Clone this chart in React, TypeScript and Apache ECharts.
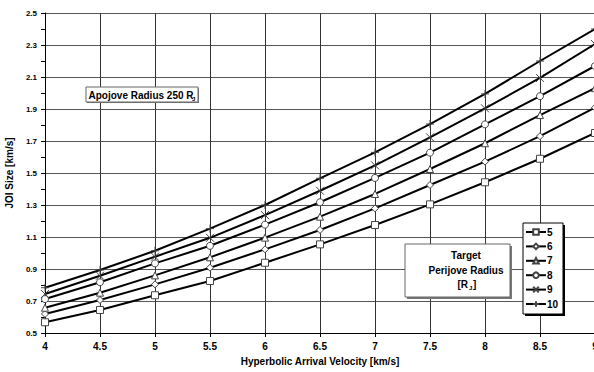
import React, { useEffect, useRef } from "react";
import * as echarts from "echarts";

const velocities = [4, 4.5, 5, 5.5, 6, 6.5, 7, 7.5, 8, 8.5, 9];
const perijove5 = [0.567, 0.644, 0.736, 0.825, 0.939, 1.054, 1.175, 1.304, 1.442, 1.589, 1.75];
const perijove6 = [0.619, 0.706, 0.804, 0.908, 1.023, 1.144, 1.279, 1.425, 1.571, 1.73, 1.908];
const perijove7 = [0.658, 0.752, 0.86, 0.973, 1.096, 1.227, 1.369, 1.525, 1.686, 1.862, 2.03];
const perijove8 = [0.712, 0.817, 0.935, 1.045, 1.177, 1.317, 1.469, 1.627, 1.804, 1.98, 2.169];
const perijove9 = [0.744, 0.858, 0.977, 1.095, 1.237, 1.389, 1.548, 1.723, 1.904, 2.094, 2.306];
const perijove10 = [0.783, 0.894, 1.014, 1.152, 1.3, 1.467, 1.629, 1.806, 1.994, 2.2, 2.4];

const seriesNames = ["5", "6", "7", "8", "9", "10"];
const seriesValues = [perijove5, perijove6, perijove7, perijove8, perijove9, perijove10];
const seriesSymbols = [
  "rect",
  "diamond",
  "triangle",
  "circle",
  "path://M0,0L10,10M10,0L0,10",
  "path://M5,0L5,10M0,5L10,5",
];

const FONT = "'Liberation Sans', Arial, sans-serif";

export default function App() {
  const ref = useRef<HTMLDivElement>(null);

  useEffect(() => {
    if (!ref.current) return;
    const chart = echarts.init(ref.current, null, { renderer: "svg" });

    const series = seriesNames.map((name, i) => ({
      name,
      type: "line",
      data: velocities.map((v, j) => [v, seriesValues[i][j]]),
      symbol: seriesSymbols[i],
      symbolSize: i >= 4 ? 8 : 7,
      showAllSymbol: true,
      lineStyle: { color: "#000", width: 2 },
      itemStyle: { color: "#fff", borderColor: "#444", borderWidth: 1 },
      emphasis: { disabled: true },
      z: 2,
    }));

    const option = {
      animation: false,
      backgroundColor: "#fff",
      textStyle: { fontFamily: FONT },
      grid: {
        left: 45,
        width: 550,
        top: 13,
        bottom: 39,
        containLabel: false,
        outerBoundsMode: "none",
      },
      xAxis: {
        type: "value",
        min: 4,
        max: 9,
        interval: 0.5,
        name: "Hyperbolic Arrival Velocity [km/s]",
        nameLocation: "middle",
        nameGap: 23,
        nameTextStyle: { fontFamily: FONT, fontSize: 10, fontWeight: "bold", color: "#000" },
        axisLine: { lineStyle: { color: "#000", width: 1 } },
        axisTick: { show: true, length: 4, lineStyle: { color: "#000" } },
        axisLabel: {
          fontFamily: FONT,
          fontSize: 10,
          fontWeight: "bold",
          color: "#000",
          margin: 8,
          formatter: (v: number) => String(v),
        },
        splitLine: { show: true, lineStyle: { color: "#333", width: 1 } },
      },
      yAxis: {
        type: "value",
        min: 0.5,
        max: 2.5,
        interval: 0.2,
        name: "JOI Size [km/s]",
        nameLocation: "middle",
        nameGap: 27,
        nameRotate: 90,
        nameTextStyle: { fontFamily: FONT, fontSize: 10, fontWeight: "bold", color: "#000" },
        axisLine: { show: true, lineStyle: { color: "#000", width: 1 } },
        axisTick: { show: true, length: 4, lineStyle: { color: "#000" } },
        minorTick: { show: true, splitNumber: 2, length: 4, lineStyle: { color: "#000" } },
        axisLabel: {
          fontFamily: FONT,
          fontSize: 8,
          fontWeight: "bold",
          color: "#000",
          margin: 8,
          formatter: (v: number) => v.toFixed(1),
        },
        splitLine: { show: true, lineStyle: { color: "#555", width: 1 } },
      },
      legend: {
        data: seriesNames,
        orient: "vertical",
        left: 525,
        top: 227,
        itemWidth: 20,
        itemHeight: 7,
        itemGap: 4.4,
        padding: 0,
        textStyle: {
          fontFamily: FONT,
          fontSize: 10,
          lineHeight: 10,
          fontWeight: "bold",
          color: "#000",
          padding: [0, 0, 0, -4],
        },
        z: 6,
      },
      graphic: [
        // Apojove label
        { type: "rect", z: 5, shape: { x: 87, y: 88, width: 112, height: 15 }, style: { fill: "#777" } },
        { type: "rect", z: 5, shape: { x: 86, y: 87, width: 112, height: 15 }, style: { fill: "#fff", stroke: "#666", lineWidth: 1 } },
        {
          type: "text", z: 6, x: 88.5, y: 95,
          style: { text: "Apojove Radius 250 R", font: `bold 10px ${FONT}`, fill: "#000", verticalAlign: "middle", align: "left" },
        },
        {
          type: "text", z: 6, x: 192, y: 98.5,
          style: { text: "J", font: `bold 6px ${FONT}`, fill: "#000", verticalAlign: "middle", align: "left" },
        },
        // Target perijove label
        { type: "rect", z: 5, shape: { x: 407, y: 246, width: 105, height: 53 }, style: { fill: "#777" } },
        { type: "rect", z: 5, shape: { x: 405, y: 244, width: 105, height: 53 }, style: { fill: "#fff", stroke: "#666", lineWidth: 1 } },
        {
          type: "text", z: 6, x: 466, y: 255,
          style: { text: "Target", font: `bold 10px ${FONT}`, fill: "#000", verticalAlign: "middle", align: "center" },
        },
        {
          type: "text", z: 6, x: 466, y: 270,
          style: { text: "Perijove Radius", font: `bold 10px ${FONT}`, fill: "#000", verticalAlign: "middle", align: "center" },
        },
        {
          type: "text", z: 6, x: 457.5, y: 284,
          style: { text: "[R", font: `bold 10px ${FONT}`, fill: "#000", verticalAlign: "middle", align: "left" },
        },
        {
          type: "text", z: 6, x: 469, y: 287.5,
          style: { text: "J", font: `bold 6px ${FONT}`, fill: "#000", verticalAlign: "middle", align: "left" },
        },
        {
          type: "text", z: 6, x: 473, y: 284,
          style: { text: "]", font: `bold 10px ${FONT}`, fill: "#000", verticalAlign: "middle", align: "left" },
        },
        // Legend box
        { type: "rect", z: 5, shape: { x: 525, y: 225, width: 40, height: 91 }, style: { fill: "#000" } },
        { type: "rect", z: 5, shape: { x: 523, y: 223, width: 40, height: 91 }, style: { fill: "#fff", stroke: "#000", lineWidth: 1 } },
      ],
      series,
    };

    chart.setOption(option as any);
    return () => chart.dispose();
  }, []);

  return <div ref={ref} style={{ width: 594, height: 372, position: "absolute", left: 0, top: 0 }} />;
}
